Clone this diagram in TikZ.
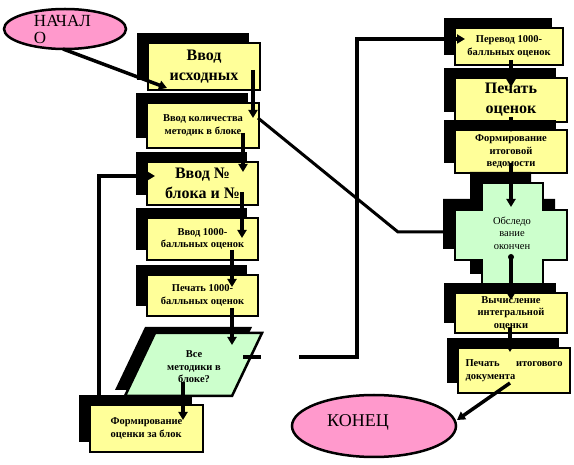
\documentclass[tikz,border=0pt]{standalone}
\usepackage{fontspec}
\setmainfont{Liberation Serif}
\usetikzlibrary{arrows.meta,shadows,calc,shapes.geometric}
\definecolor{pinkfill}{HTML}{FF99CC}
\definecolor{yel}{HTML}{FFFF99}
\definecolor{grn}{HTML}{CCFFCC}
\begin{document}
\begin{tikzpicture}[x=1pt,y=-1pt,
  shadowed/.style={drop shadow={shadow xshift=-11pt,shadow yshift=10pt,fill=black,opacity=1}},
  box/.style={rectangle,draw=black,line width=2.5pt,fill=yel,shadowed,inner sep=1pt,align=center},
  small/.style={font=\bfseries\fontsize{10.5}{12.5}\selectfont},
  big/.style={font=\bfseries\fontsize{16}{20}\selectfont},
  startend/.style={ellipse,draw=black,line width=2.5pt,fill=pinkfill,inner sep=0pt},
  conn/.style={line width=3.5pt},
  arr/.style={conn,-{Triangle[length=8pt,width=9pt]}},
  lbl/.style={font=\fontsize{17}{17}\selectfont,align=left}
]
\useasboundingbox (0,0) rectangle (574,465);

% start / end ellipses
\node[startend,minimum width=122pt,minimum height=40pt,
  label={[lbl,text width=62pt]center:{НАЧАЛ\\О}}] (start) at (65,29) {};

% left column
\node[box,big,minimum width=112pt,minimum height=47pt] (b1) at (204,66.5) {Ввод\\исходных};
\node[box,small,minimum width=112pt,minimum height=45pt] (b2) at (203,125.5) {Ввод количества\\методик в блоке};
\node[box,big,minimum width=111pt,minimum height=43pt] (b3) at (202.5,183.5) {Ввод №\\блока и №};
\node[box,small,minimum width=111pt,minimum height=42pt] (b4) at (202.5,239) {Ввод 1000-\\балльных оценок};
\node[box,small,minimum width=111pt,minimum height=41pt] (b5) at (202.5,295.5) {Печать 1000-\\балльных оценок};

% decision parallelogram
\fill[black] (145,327) -- (252,327) -- (222,390) -- (115,390) -- cycle;
\draw[line width=2.5pt,fill=grn] (155,333) -- (262,333) -- (232,396) -- (125,396) -- cycle;
\node[small,align=center] (dec) at (194,367) {Все\\методики в\\блоке?};

\node[box,small,minimum width=113pt,minimum height=47pt,align=left] (blk) at (146.5,428.5) {Формирование\\оценки за блок};

% right column
\node[box,small,minimum width=108pt,minimum height=37pt] (r1) at (509,46.5) {Перевод 1000-\\балльных оценок};
\node[box,big,minimum width=112pt,minimum height=44pt] (r2) at (511,100) {Печать\\оценок};
\node[box,small,minimum width=112pt,minimum height=43pt] (r3) at (511,151.5) {Формирование\\итоговой\\ведомости};

% cross
\fill[black,shift={(-12,-11)}] (482,183) -- (543,183) -- (543,210) -- (567,210) -- (567,260) -- (543,260) -- (543,285) -- (482,285) -- (482,260) -- (455,260) -- (455,210) -- (482,210) -- cycle;
\draw[line width=2pt,fill=grn] (482,183) -- (543,183) -- (543,210) -- (567,210) -- (567,260) -- (543,260) -- (543,285) -- (482,285) -- (482,260) -- (455,260) -- (455,210) -- (482,210) -- cycle;
\node[font=\fontsize{10.5}{12.5}\selectfont,align=center] (cr) at (512,233) {Обследо\\вание\\окончен};

\node[box,small,minimum width=112pt,minimum height=40pt] (r5) at (511,313) {Вычисление\\интегральной\\оценки};
\node[box,small,minimum width=112pt,minimum height=45pt,align=left] (r6) at (514,370.5) {\makebox[97pt][s]{Печать итогового}\\документа};

\node[startend,minimum width=164pt,minimum height=62pt,
  label={[font=\fontsize{18}{18}\selectfont,xshift=-16pt,yshift=4pt]center:КОНЕЦ}] (end) at (374,426) {};

% coordinates for connector ends
\coordinate (s1) at (63,49);   \coordinate (e1) at (167,88);
\coordinate (s2) at (253,70);  \coordinate (e2) at (253,118);
\coordinate (s3) at (243,133); \coordinate (e3) at (243,172);
\coordinate (s4) at (242,192); \coordinate (e4) at (242,238);
\coordinate (s5) at (232,250); \coordinate (e5) at (232,287);
\coordinate (s6) at (232,308); \coordinate (e6) at (232,345);
\coordinate (s7) at (183,382); \coordinate (e7) at (183,420);
\coordinate (lp0) at (99,395); \coordinate (lp1) at (99,176); \coordinate (lp2) at (155,176);
\coordinate (d0) at (243,357); \coordinate (d1) at (261,357);
\coordinate (d2) at (299,357); \coordinate (d3) at (357,357); \coordinate (d4) at (357,39); \coordinate (d5) at (465,39);
\coordinate (g0) at (258,118); \coordinate (g1) at (398,232); \coordinate (g2) at (443,232);
\coordinate (t1) at (511,60);  \coordinate (u1) at (511,87);
\coordinate (t2) at (511,117); \coordinate (u2) at (511,132);
\coordinate (t3) at (511,163); \coordinate (u3) at (511,207);
\coordinate (t4) at (511,257); \coordinate (u4) at (511,300);
\coordinate (t5) at (510,327); \coordinate (u5) at (510,352);
\coordinate (t6) at (510,383); \coordinate (u6) at (457,420);

% connectors
\draw[arr] (s1) -- (e1);
\draw[arr] (s2) -- (e2);
\draw[arr] (s3) -- (e3);
\draw[arr] (s4) -- (e4);
\draw[arr] (s5) -- (e5);
\draw[arr] (s6) -- (e6);
\draw[arr] (s7) -- (e7);
\draw[arr] (lp0) -- (lp1) -- (lp2);
\draw[conn] (d0) -- (d1);
\draw[arr] (d2) -- (d3) -- (d4) -- (d5);
\draw[line width=3pt] (g0) -- (g1) -- (g2);
\draw[arr] (t1) -- (u1);
\draw[arr] (t2) -- (u2);
\draw[arr] (t3) -- (u3);
\fill (t4) circle (3pt);
\draw[arr] (t4) -- (u4);
\draw[arr] (t5) -- (u5);
\draw[arr] (t6) -- (u6);
\end{tikzpicture}
\end{document}
